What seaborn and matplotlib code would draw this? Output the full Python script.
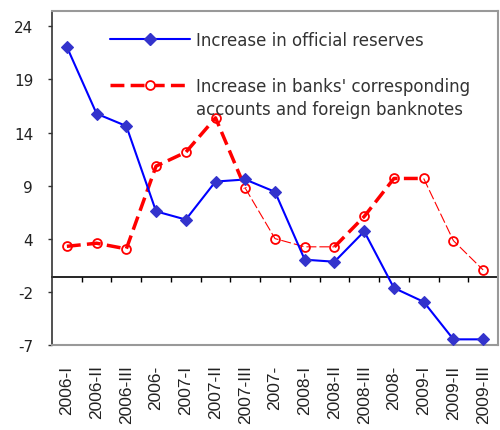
import numpy as np
import pandas as pd
import matplotlib
matplotlib.use("Agg")
import matplotlib.pyplot as plt
from matplotlib.lines import Line2D
import seaborn as sns

# Quarterly data
quarters = ["2006-I", "2006-II", "2006-III", "2006-", "2007-I", "2007-II", "2007-III", "2007-",
            "2008-I", "2008-II", "2008-III", "2008-", "2009-I", "2009-II", "2009-III"]
official_reserves = [22.0, 15.5, 14.3, 6.0, 5.2, 8.9, 9.1, 7.9, 1.3, 1.1, 4.05, -1.45, -2.8, -6.45, -6.45]
bank_accounts = [2.6, 2.9, 2.35, 10.4, 11.75, 15.1, 8.25, 3.35, 2.55, 2.55, 5.5, 9.2, 9.2, 3.15, 0.3]
y_tick_labels = ["-7", "-2", "4", "9", "14", "19", "24"]
axis_cross = -0.42

label_reserves = "Increase in official reserves"
label_banks_1 = "Increase in banks' corresponding"
label_banks_2 = "accounts and foreign banknotes"

sns.set_theme(style="white")
plt.rcParams["font.family"] = ["DejaVu Sans"]

RED = "#FF0000"
BLUE = "#0000FF"
DIAMOND = "#3333CC"
TEXT = "#222222"

W, H = 500, 431
fig = plt.figure(figsize=(W / 100, H / 100), dpi=100)
ax = fig.add_axes([52 / W, 1 - 346 / H, 446 / W, 334 / H])

df = pd.DataFrame({
    "pos": np.arange(len(quarters)),
    "quarter": quarters,
    "reserves": official_reserves,
    "banks": bank_accounts,
})

ymin, ymax = -7, 25.49
ax.set_xlim(-0.5, len(quarters) - 0.5)
ax.set_ylim(ymin, ymax)

# bank accounts: heavy dashes on some stretches, fine dashes on others
thick_style = (0, (4, 1.8))
thin_style = (0, (9, 2.7))
for a, b in [(0, 6), (9, 12)]:
    sns.lineplot(data=df.iloc[a:b + 1], x="pos", y="banks", ax=ax, color=RED,
                 lw=2.5, linestyle=thick_style, errorbar=None, legend=False, zorder=2)
for a, b in [(6, 9), (12, 14)]:
    sns.lineplot(data=df.iloc[a:b + 1], x="pos", y="banks", ax=ax, color=RED,
                 lw=0.8, linestyle=thin_style, errorbar=None, legend=False, zorder=2)
sns.lineplot(data=df, x="pos", y="banks", ax=ax, linestyle="none", marker="o",
             markersize=6.4, markerfacecolor="none", markeredgecolor=RED,
             markeredgewidth=1.3, errorbar=None, legend=False, zorder=3)

# official reserves
sns.lineplot(data=df, x="pos", y="reserves", ax=ax, color=BLUE, lw=1.5,
             marker="D", markersize=6.5, markerfacecolor=DIAMOND,
             markeredgecolor=DIAMOND, markeredgewidth=0.8,
             errorbar=None, legend=False, zorder=4)

ax.set_xlabel("")
ax.set_ylabel("")
ax.grid(False)

# y axis
ax.set_yticks(np.linspace(-7, 24, len(y_tick_labels)))
ax.set_yticklabels(y_tick_labels)
ax.tick_params(axis="y", direction="out", length=3, width=1, color="#333333",
               labelsize=11, labelcolor=TEXT, pad=10.5, left=True)

# category labels along the bottom edge
ax.set_xticks(df["pos"])
ax.set_xticklabels(quarters, rotation=90, family=["Liberation Sans", "DejaVu Sans"],
                   fontsize=12.5, color=TEXT)
ax.tick_params(axis="x", length=0, pad=14)

for side in ["top", "right", "bottom"]:
    ax.spines[side].set_color("#999999")
    ax.spines[side].set_linewidth(1.5)
ax.spines["left"].set_color("#333333")
ax.spines["left"].set_linewidth(1.2)

# horizontal axis line with tick marks between categories
cross = ax.secondary_xaxis((axis_cross - ymin) / (ymax - ymin))
cross.set_xticks(np.arange(0.5, len(quarters) - 0.5, 1.0))
cross.tick_params(axis="x", direction="out", length=3.8, width=1, color="black",
                  labelbottom=False, labeltop=False)
for sp in cross.spines.values():
    sp.set_color("black")
    sp.set_linewidth(1.2)

handles = [
    Line2D([], [], color=BLUE, lw=1.5, marker="D", markersize=6.5,
           markerfacecolor=DIAMOND, markeredgecolor=DIAMOND),
    Line2D([], [], color=RED, lw=2.5, linestyle=thick_style, marker="o", markersize=6.4,
           markerfacecolor="white", markeredgecolor=RED, markeredgewidth=1.3),
]
leg = ax.legend(handles, [label_reserves, label_banks_1], loc="upper left",
                bbox_to_anchor=(0.130, 0.94), frameon=False, borderpad=0,
                borderaxespad=0, handlelength=4.8, handletextpad=0.35,
                labelspacing=1.68, fontsize=12, labelcolor="#333333", numpoints=1)

fig.canvas.draw()
bb = leg.get_texts()[1].get_window_extent()
fig.text(bb.x0 / W, (bb.y0 - 23) / H, label_banks_2, fontsize=12, color="#333333",
         ha="left", va="bottom")

fig.savefig("out.png", dpi=100)
